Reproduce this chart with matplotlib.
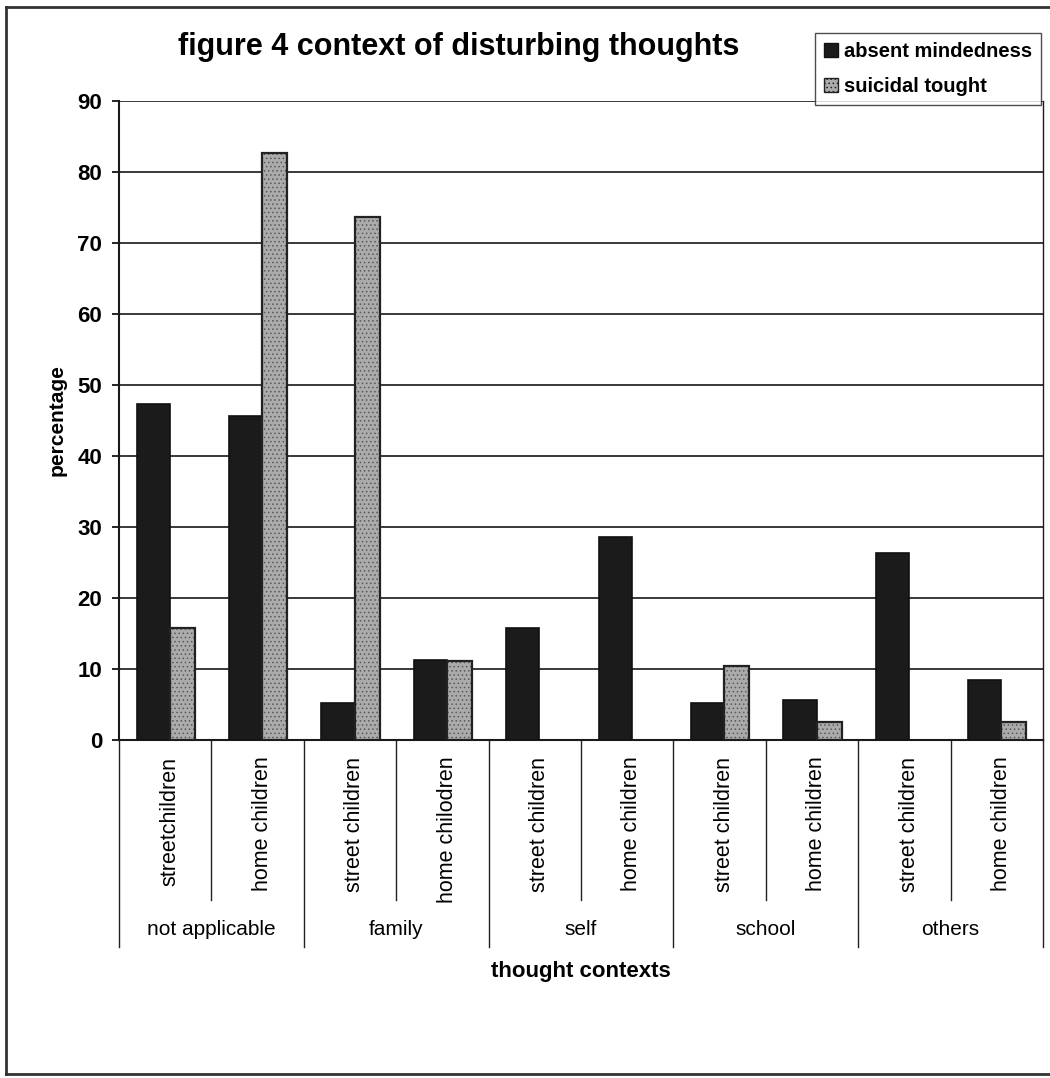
import numpy as np
import matplotlib.pyplot as plt
from matplotlib.lines import Line2D
from matplotlib.patches import Patch

plt.rcParams['font.family'] = ['Liberation Sans', 'DejaVu Sans']
plt.rcParams['hatch.linewidth'] = 0.6

# Data: thought contexts by group of children
contexts = ['not applicable', 'family', 'self', 'school', 'others']
groups = ['streetchildren', 'home children', 'street children', 'home chilodren',
          'street children', 'home children', 'street children', 'home children',
          'street children', 'home children']
absent_mindedness = [47.3, 45.6, 5.2, 11.3, 15.8, 28.6, 5.2, 5.6, 26.3, 8.4]
suicidal_tought = [15.8, 82.7, 73.6, 11.1, 0, 0, 10.4, 2.6, 0, 2.5]

W, H = 1050, 1078
fig = plt.figure(figsize=(W / 100, H / 100), dpi=100)
ax = fig.add_axes([119 / W, 1 - 740 / H, 924 / W, 639 / H])

n = len(groups)
x = np.arange(n)
dark_w, light_w = 0.36, 0.27
dark_x = x + 0.19
light_x = dark_x + dark_w

ax.bar(dark_x, absent_mindedness, width=dark_w, align='edge',
       color='#1b1b1b', edgecolor='#111111', linewidth=1.2, zorder=3)
light = ax.bar(light_x, suicidal_tought, width=light_w, align='edge',
               color='#ababab', edgecolor='#222222', hatch='....',
               linewidth=1.6, zorder=3)
for p, v in zip(light, suicidal_tought):
    p._hatch_color = (0.35, 0.35, 0.35, 1.0)
    if v == 0:
        p.set_linewidth(0)

ax.set_xlim(0, n)
ax.set_ylim(0, 90)
ax.set_yticks(np.arange(0, 91, 10))
ax.yaxis.grid(True, color='#2a2a2a', linewidth=1.3)
ax.set_axisbelow(True)
ax.set_xticks([])
ax.tick_params(axis='y', direction='out', length=5, width=1.2, pad=7,
               labelsize=16)
for lbl in ax.get_yticklabels():
    lbl.set_fontweight('bold')
for side in ['left', 'bottom', 'right']:
    ax.spines[side].set_color('#1a1a1a')
    ax.spines[side].set_linewidth(1.5)
ax.spines['top'].set_visible(False)
ax.spines['right'].set_linewidth(1.0)

ax.set_ylabel('percentage', fontsize=15, fontweight='bold', labelpad=8)

# two-level category axis drawn under the plot
trans = ax.get_xaxis_transform()
for i in range(n + 1):
    bottom = -0.324 if i % 2 == 0 else -0.25
    ax.add_line(Line2D([i, i], [0, bottom], transform=trans, color='#222222',
                       linewidth=1.0, clip_on=False))
for i, g in enumerate(groups):
    ax.text(i + 0.55, -0.026, g, transform=trans, rotation=90, ha='center',
            va='top', fontsize=15.5)
for j, c in enumerate(contexts):
    ax.text(2 * j + 1, -0.297, c, transform=trans, ha='center', va='center',
            fontsize=15)
ax.text(n / 2, -0.363, 'thought contexts', transform=trans, ha='center',
        va='center', fontsize=16, fontweight='bold')

fig.text(459 / W, 1 - 47 / H, 'figure 4 context of disturbing thoughts',
         ha='center', va='center', fontsize=22, fontweight='bold')

handles = [Patch(facecolor='#1b1b1b', edgecolor='#111111'),
           Patch(facecolor='#ababab', edgecolor='#222222', hatch='....')]
leg = fig.legend(handles, ['absent mindedness', 'suicidal tought'],
                 loc='upper left', bbox_to_anchor=(815 / W, 1 - 33 / H),
                 frameon=True, fancybox=False, handlelength=0.7, handleheight=0.7,
                 handletextpad=0.3, borderpad=0.45, labelspacing=0.8,
                 borderaxespad=0, prop={'size': 14.5, 'weight': 'bold'})
leg.get_frame().set_edgecolor('#222222')
leg.get_frame().set_linewidth(1.0)

# page frame
for xs, ys in [([6, 1050], [7, 7]), ([6, 6], [7, 1074]), ([6, 1050], [1074, 1074])]:
    fig.add_artist(Line2D([v / W for v in xs], [1 - v / H for v in ys],
                          color='#333333', linewidth=2.0))

fig.savefig('out.png', dpi=100)
